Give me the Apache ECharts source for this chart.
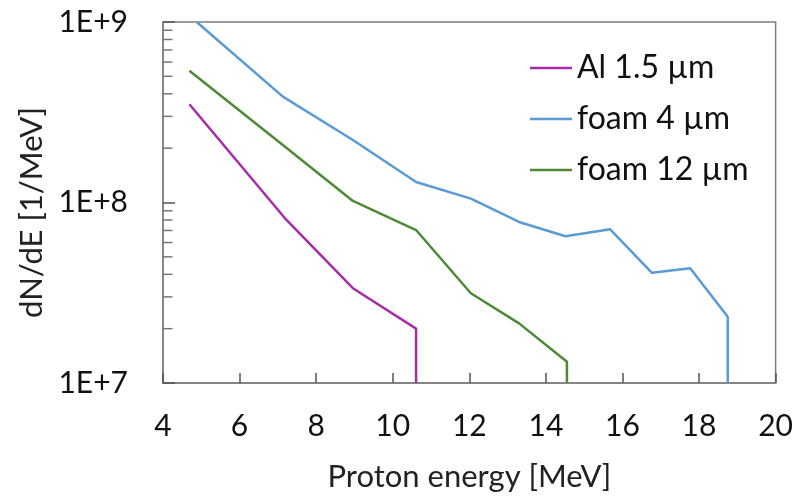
<!DOCTYPE html>
<html><head><meta charset="utf-8">
<script src="https://cdn.jsdelivr.net/npm/echarts@6/dist/echarts.min.js"></script>
<style>html,body{margin:0;padding:0;background:#fff}#c{width:796px;height:499px}</style>
</head><body><div id="c"></div>
<script>
const seriesNames = ['Al 1.5 µm', 'foam 4 µm', 'foam 12 µm'];
const alEnergy = [4.69, 7.18, 8.96, 10.61, 10.61];
const alValues = [3.5e8, 8.2e7, 3.35e7, 2.0e7, 1.0e7];
const foam4Energy = [4.88, 7.13, 8.96, 10.61, 12.04, 13.30, 14.51, 15.68, 16.77, 17.77, 18.75, 18.75];
const foam4Values = [1.0e9, 3.86e8, 2.22e8, 1.30e8, 1.05e8, 7.8e7, 6.5e7, 7.1e7, 4.08e7, 4.32e7, 2.33e7, 1.0e7];
const foam12Energy = [4.69, 7.13, 8.96, 10.61, 12.04, 13.30, 14.55, 14.55];
const foam12Values = [5.37e8, 2.08e8, 1.02e8, 7.04e7, 3.14e7, 2.14e7, 1.31e7, 1.0e7];
const minorTickValues = [2e7,3e7,4e7,5e7,6e7,7e7,8e7,9e7,2e8,3e8,4e8,5e8,6e8,7e8,8e8,9e8];
const xMin = 4, xMax = 20, xStep = 2;
const yMin = 1e7, yMax = 1e9;
const colors = ['#a82ca8', '#5b9bd5', '#4e8a36'];

const pair = (xs, ys) => xs.map((x, i) => [x, ys[i]]);
const font = 'Lato, "Open Sans", sans-serif';
const chart = echarts.init(document.getElementById('c'), null, {renderer: 'canvas'});
chart.setOption({
  animation: false,
  backgroundColor: '#fff',
  grid: {left: 163, right: 19, top: 22, bottom: 116, show: true, borderColor: '#7f7f7f', borderWidth: 1.5, containLabel: false},
  legend: {
    data: seriesNames, orient: 'vertical', left: 525, top: 47,
    icon: 'rect', itemWidth: 42, itemHeight: 2.5, itemGap: 19,
    textStyle: {fontFamily: font, fontSize: 32, color: '#111', lineHeight: 31}
  },
  xAxis: {
    type: 'value', min: xMin, max: xMax, interval: xStep,
    name: 'Proton energy [MeV]', nameLocation: 'middle', nameGap: 78,
    nameTextStyle: {fontFamily: font, fontSize: 31, color: '#222'},
    axisLine: {show: true, lineStyle: {color: '#7f7f7f', width: 1.5}},
    axisTick: {show: true, inside: true, length: 10, lineStyle: {color: '#555', width: 1.5}},
    axisLabel: {fontFamily: font, fontSize: 30, color: '#111', margin: 28},
    splitLine: {show: false}
  },
  yAxis: {
    type: 'log', logBase: 10, min: yMin, max: yMax,
    name: 'dN/dE [1/MeV]', nameLocation: 'middle', nameGap: 115, nameRotate: 90,
    nameTextStyle: {fontFamily: font, fontSize: 31, color: '#222', padding: [0, 20, 0, 0]},
    axisLine: {show: true, lineStyle: {color: '#7f7f7f', width: 1.5}},
    axisTick: {show: true, inside: true, length: 12, lineStyle: {color: '#555', width: 1.5}},
    axisLabel: {fontFamily: font, fontSize: 30, color: '#111', margin: 35,
      formatter: v => '1E+' + Math.round(Math.log10(v))},
    splitLine: {show: false}
  },
  series: [
    {name: seriesNames[0], type: 'line', data: pair(alEnergy, alValues), showSymbol: false, symbol: 'none',
     lineStyle: {color: colors[0], width: 2.5}, itemStyle: {color: colors[0]}},
    {name: seriesNames[1], type: 'line', data: pair(foam4Energy, foam4Values), showSymbol: false, symbol: 'none',
     lineStyle: {color: colors[1], width: 2.5}, itemStyle: {color: colors[1]}},
    {name: seriesNames[2], type: 'line', data: pair(foam12Energy, foam12Values), showSymbol: false, symbol: 'none',
     lineStyle: {color: colors[2], width: 2.5}, itemStyle: {color: colors[2]}},
    {name: 'minor', type: 'scatter', silent: true, data: minorTickValues.map(v => [xMin, v]),
     symbol: 'rect', symbolSize: [9, 1.5], symbolOffset: [5, 0], itemStyle: {color: '#555'}, z: 1}
  ]
});
</script></body></html>
